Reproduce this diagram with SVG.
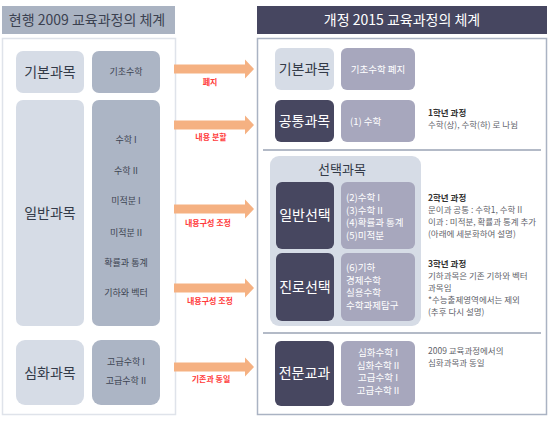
<svg xmlns="http://www.w3.org/2000/svg" width="550" height="421" viewBox="0 0 550 421">
<defs>
<style>
text{font-family:"Noto Sans CJK KR","Noto Sans",sans-serif;}
.lt{fill:#d6dce6;}
.lm{fill:#acb5c5;}
.rp{fill:#a7a7bd;}
.dk{fill:#474760;}
.big{font-size:14px;fill:#333a48;text-anchor:middle;}
.bigw{font-size:14px;fill:#ffffff;text-anchor:middle;}
.sm{font-size:9px;fill:#3d4452;text-anchor:middle;}
.smw{font-size:9.5px;fill:#ffffff;}
.note{font-size:8.5px;fill:#5f636a;}
.noteb{font-size:8.5px;fill:#333;font-weight:bold;}
.lbl{font-size:8px;fill:#ff3b3b;font-weight:bold;text-anchor:middle;}
.arr{fill:#f5b182;}
.div{stroke:#b3bac7;stroke-width:2;}
</style>
<path id="arrowShape" d="M0,-4.5 H71 V-9.5 L80,0 L71,9.5 V4.5 H0 Z"/>
</defs>
<rect width="550" height="421" fill="#ffffff"/>

<g id="left-header">
<rect x="2" y="6" width="173" height="28" fill="#aab3c2"/>
<text x="87" y="25" font-size="14" fill="#3b4150" text-anchor="middle">현행 2009 교육과정의 체계</text>
</g>
<g id="left-panel">
<rect x="2.5" y="38.5" width="173" height="376" fill="#ffffff" stroke="#dfe3ea" stroke-width="1.5"/>
</g>

<g id="left-basic">
<rect class="lt" x="16" y="51" width="68" height="42" rx="7"/>
<text class="big" x="50" y="77">기본과목</text>
<rect class="lm" x="92" y="51" width="68" height="42" rx="7"/>
<text class="sm" x="126" y="75">기초수학</text>
</g>

<g id="left-general">
<rect class="lt" x="16" y="100" width="68" height="226" rx="7"/>
<text class="big" x="50" y="218">일반과목</text>
<rect class="lm" x="92" y="100" width="68" height="226" rx="7"/>
<text class="sm" x="126" y="143">수학 I</text>
<text class="sm" x="126" y="174">수학 II</text>
<text class="sm" x="126" y="204">미적분 I</text>
<text class="sm" x="126" y="236">미적분 II</text>
<text class="sm" x="126" y="266">확률과 통계</text>
<text class="sm" x="126" y="296">기하와 벡터</text>
</g>

<g id="left-advanced">
<rect class="lt" x="16" y="340" width="68" height="65" rx="9"/>
<text class="big" x="50" y="378">심화과목</text>
<rect class="lm" x="92" y="340" width="68" height="65" rx="9"/>
<text class="sm" x="126" y="365">고급수학 I</text>
<text class="sm" x="126" y="384">고급수학 II</text>
</g>

<g id="connectors">
<use href="#arrowShape" class="arr" transform="translate(174,69)"/>
<text class="lbl" x="210" y="85">폐지</text>
<use href="#arrowShape" class="arr" transform="translate(174,125)"/>
<text class="lbl" x="211" y="140">내용 분할</text>
<use href="#arrowShape" class="arr" transform="translate(174,209)"/>
<text class="lbl" x="208" y="226">내용구성 조정</text>
<use href="#arrowShape" class="arr" transform="translate(174,288)"/>
<text class="lbl" x="210" y="304">내용구성 조정</text>
<use href="#arrowShape" class="arr" transform="translate(174,367)"/>
<text class="lbl" x="211" y="382">기존과 동일</text>
</g>

<g id="right-header">
<rect x="257" y="6" width="290" height="28" fill="#464660"/>
<text x="402" y="25" font-size="14" fill="#ffffff" text-anchor="middle">개정 2015 교육과정의 체계</text>
</g>
<g id="right-panel">
<rect x="257.5" y="38.5" width="289" height="376" fill="#ffffff" stroke="#aab3c3" stroke-width="1.5"/>
<line class="div" x1="263" y1="150" x2="541" y2="150"/>
<line class="div" x1="263" y1="333" x2="541" y2="333"/>
</g>

<g id="right-basic">
<rect class="lt" x="275" y="48" width="59" height="42" rx="6"/>
<text class="big" x="304.5" y="74">기본과목</text>
<rect class="rp" x="341" y="48" width="74" height="42" rx="6"/>
<text class="smw" x="378" y="73" text-anchor="middle">기초수학 폐지</text>
</g>

<g id="right-common">
<rect class="dk" x="275" y="100" width="59" height="42" rx="6"/>
<text class="bigw" x="304.5" y="126">공통과목</text>
<rect class="rp" x="341" y="100" width="74" height="42" rx="6"/>
<text class="smw" x="350" y="125">(1) 수학</text>
<text class="noteb" x="428" y="116">1학년 과정</text>
<text class="note" x="428" y="128">수학(상), 수학(하) 로 나뉨</text>
</g>

<g id="right-elective">
<rect class="lt" x="270" y="156" width="151" height="170" rx="9"/>
<text x="342" y="174" font-size="13" fill="#333a48" text-anchor="middle">선택과목</text>
</g>

<g id="right-general-elective">
<rect class="dk" x="276" y="182" width="58" height="67" rx="6"/>
<text class="bigw" x="305" y="220">일반선택</text>
<rect class="rp" x="341" y="182" width="74" height="67" rx="6"/>
<text class="smw" x="346" y="201">(2)수학 I</text>
<text class="smw" x="346" y="213.5">(3)수학 II</text>
<text class="smw" x="346" y="226">(4)확률과 통계</text>
<text class="smw" x="346" y="238.5">(5)미적분</text>
<text class="noteb" x="428" y="201">2학년 과정</text>
<text class="note" x="428" y="213">문이과 공통 : 수학1, 수학 II</text>
<text class="note" x="428" y="225">이과 : 미적분, 확률과 통계 추가</text>
<text class="note" x="428" y="237">(아래에 세분화하여 설명)</text>
</g>

<g id="right-career-elective">
<rect class="dk" x="276" y="253" width="58" height="68" rx="6"/>
<text class="bigw" x="305" y="292">진로선택</text>
<rect class="rp" x="341" y="253" width="74" height="68" rx="6"/>
<text class="smw" x="346" y="271">(6)기하</text>
<text class="smw" x="346" y="283.5">경제수학</text>
<text class="smw" x="346" y="296">실용수학</text>
<text class="smw" x="346" y="308.5">수학과제탐구</text>
<text class="noteb" x="428" y="267">3학년 과정</text>
<text class="note" x="428" y="279">기하과목은 기존 기하와 벡터</text>
<text class="note" x="428" y="291">과목임</text>
<text class="note" x="428" y="303">*수능출제영역에서는 제외</text>
<text class="note" x="428" y="315">(추후 다시 설명)</text>
</g>

<g id="right-professional">
<rect class="dk" x="275" y="341" width="59" height="65" rx="6"/>
<text class="bigw" x="304.5" y="378">전문교과</text>
<rect class="rp" x="341" y="341" width="74" height="65" rx="6"/>
<text class="smw" x="378" y="356" text-anchor="middle">심화수학 I</text>
<text class="smw" x="378" y="368.5" text-anchor="middle">심화수학 II</text>
<text class="smw" x="378" y="381" text-anchor="middle">고급수학 I</text>
<text class="smw" x="378" y="393.5" text-anchor="middle">고급수학 II</text>
<text class="note" x="428" y="354">2009 교육과정에서의</text>
<text class="note" x="428" y="366">심화과목과 동일</text>
</g>
</svg>
